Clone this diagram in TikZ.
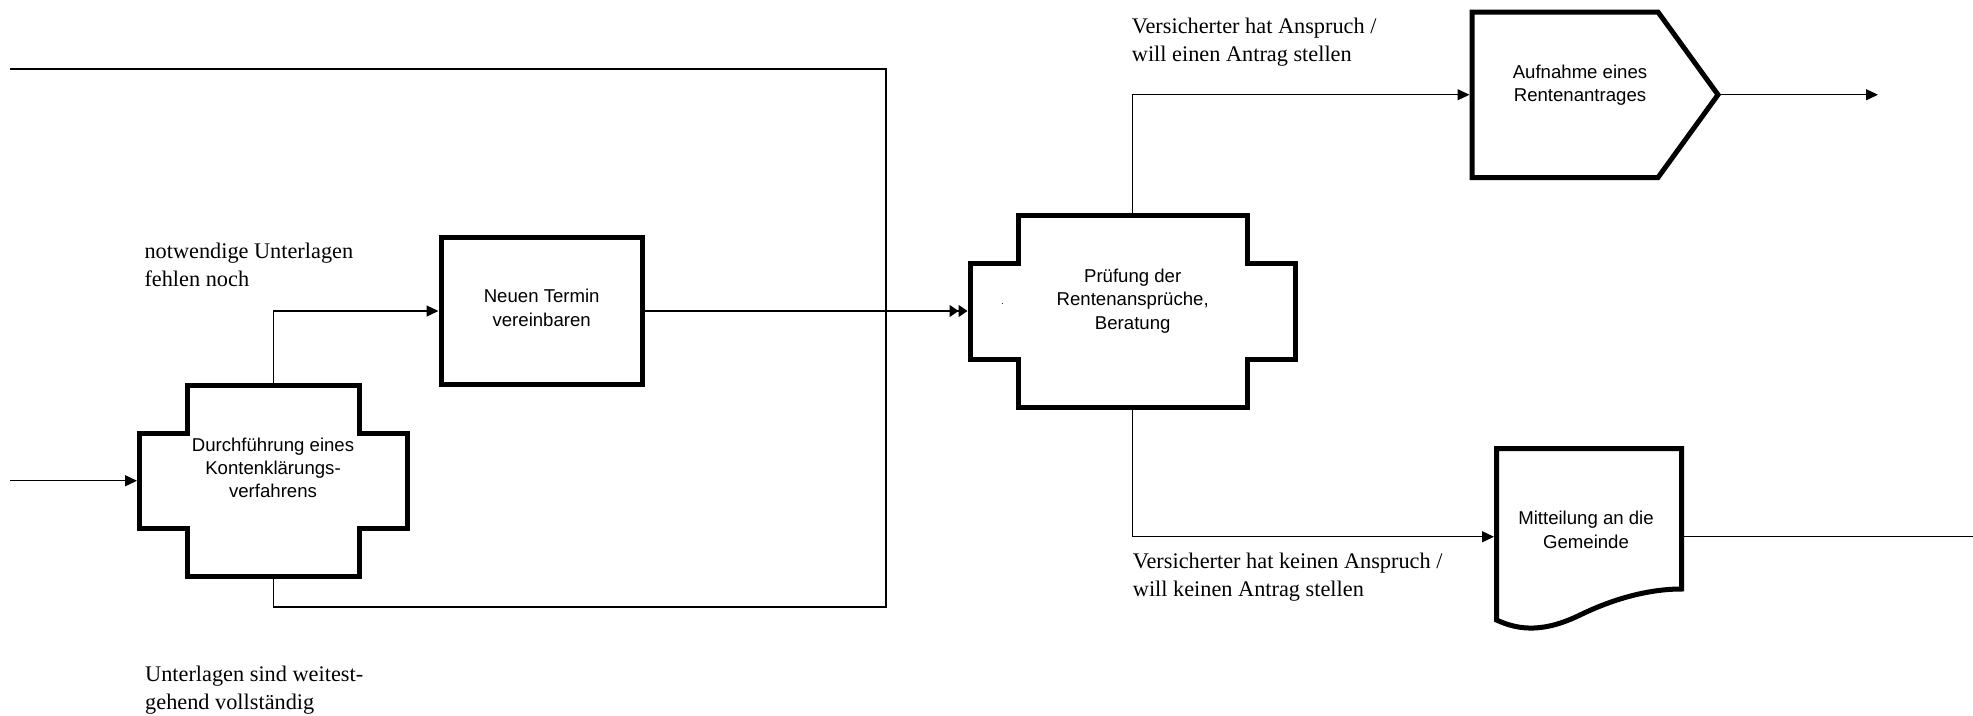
\documentclass[tikz,border=0pt]{standalone}
\usepackage{fontspec}
\setmainfont{Liberation Serif}
\setsansfont{Liberation Sans}
\usetikzlibrary{arrows.meta,calc}
\begin{document}
\begin{tikzpicture}[x=1pt,y=-1pt,
  thinline/.style={line width=1.3pt},
  arr/.style={thinline,-{Triangle[length=12pt,width=11pt]}},
  dblarr/.style={thinline,-{Triangle[length=9pt,width=12pt] Triangle[length=9pt,width=12pt]}},
  boxline/.style={line width=5pt,line join=miter,fill=white},
  shp/.style={draw=none,inner sep=0pt,outer sep=0pt},
  boxtext/.style={font=\sffamily\fontsize{18.6}{23.3}\selectfont,align=center,inner sep=0pt,anchor=base},
  lbl/.style={font=\rmfamily\fontsize{22.3}{27.8}\selectfont,align=left,inner sep=0pt,anchor=base west}
]
\useasboundingbox (0,0) rectangle (1973,715);

% shape anchor nodes
\node[shp,minimum width=267.5pt,minimum height=190.5pt] (kk) at (273.25,480.75) {};
\node[shp,minimum width=201pt,minimum height=147pt] (nt) at (541.5,311) {};
\node[shp,minimum width=325pt,minimum height=192pt] (pr) at (1132.5,311) {};
\node[shp,minimum width=246pt,minimum height=165.5pt] (au) at (1595,94.75) {};
\node[shp,minimum width=185pt,minimum height=176.5pt] (mi) at (1589,536.75) {};

% free ends
\coordinate (in1) at (10,480.75);
\coordinate (lp1) at (886,607);
\coordinate (lp2) at (886,69);
\coordinate (lp3) at (10,69);
\coordinate (auout) at (1878,94.75);
\coordinate (miout) at (1973,536.75);

% connectors
\draw[arr,shorten >=2.5pt] (in1) -- (kk.west);
\draw[arr,shorten >=2.5pt] (kk.north) |- (nt.west);
\draw[thinline] (kk.south) |- (lp1) -- (lp2) -- (lp3);
\draw[dblarr,shorten >=2.5pt] (nt.east) -- (pr.west);
\draw[arr,shorten >=2.5pt] (pr.north) |- (au.west);
\draw[arr,shorten >=2.5pt] (pr.south) |- (mi.west);
\draw[arr] (au.east) -- (auout);
\draw[thinline] (mi.east) -- (miout);

% shapes
\draw[boxline] ([xshift=48pt]kk.north west) -- ([xshift=-48pt]kk.north east) -- ([xshift=-48pt,yshift=-48pt]kk.north east) -- ([yshift=-48pt]kk.north east) -- ([yshift=48pt]kk.south east) -- ([xshift=-48pt,yshift=48pt]kk.south east) -- ([xshift=-48pt]kk.south east) -- ([xshift=48pt]kk.south west) -- ([xshift=48pt,yshift=48pt]kk.south west) -- ([yshift=48pt]kk.south west) -- ([yshift=-48pt]kk.north west) -- ([xshift=48pt,yshift=-48pt]kk.north west) -- cycle;
\draw[boxline] (nt.north west) rectangle (nt.south east);
\draw[boxline] ([xshift=48pt]pr.north west) -- ([xshift=-48pt]pr.north east) -- ([xshift=-48pt,yshift=-48pt]pr.north east) -- ([yshift=-48pt]pr.north east) -- ([yshift=48pt]pr.south east) -- ([xshift=-48pt,yshift=48pt]pr.south east) -- ([xshift=-48pt]pr.south east) -- ([xshift=48pt]pr.south west) -- ([xshift=48pt,yshift=48pt]pr.south west) -- ([yshift=48pt]pr.south west) -- ([yshift=-48pt]pr.north west) -- ([xshift=48pt,yshift=-48pt]pr.north west) -- cycle;
\draw[boxline] (au.north west) -- ([xshift=-60pt]au.north east) -- (au.east) -- ([xshift=-60pt]au.south east) -- (au.south west) -- cycle;
\draw[boxline] (mi.north west) -- (mi.north east) -- (1681.5,589) .. controls (1650,589) and (1615,598) .. (1580,615) .. controls (1545,632) and (1520,631) .. (1496.5,620) -- cycle;

% box texts (anchor base = baseline of last line)
\node[boxtext] (kk-t) at (273,497.7) {Durchführung eines\\Kontenklärungs-\\verfahrens};
\node[boxtext] (nt-t) at (541.7,326) {Neuen Termin\\vereinbaren};
\node[boxtext] (pr-t) at (1132.7,329) {Prüfung der\\Rentenansprüche,\\Beratung};
\node[boxtext] (au-t) at (1580,101.7) {Aufnahme eines\\Rentenantrages};
\node[boxtext] (mi-t) at (1586,548) {Mitteilung an die\\Gemeinde};
\node[font=\sffamily\fontsize{9}{10}\selectfont,inner sep=0pt,anchor=base] (dot) at (1002.7,304) {.};

% labels
\node[lbl] (l1) at (144.3,286.7) {notwendige Unterlagen\\fehlen noch};
\node[lbl] (l2) at (145,709.5) {Unterlagen sind weitest-\\gehend vollständig};
\node[lbl] (l3) at (1131.7,61.7) {Versicherter hat Anspruch /\\will einen Antrag stellen};
\node[lbl] (l4) at (1132.7,596.7) {Versicherter hat keinen Anspruch /\\will keinen Antrag stellen};
\end{tikzpicture}
\end{document}
